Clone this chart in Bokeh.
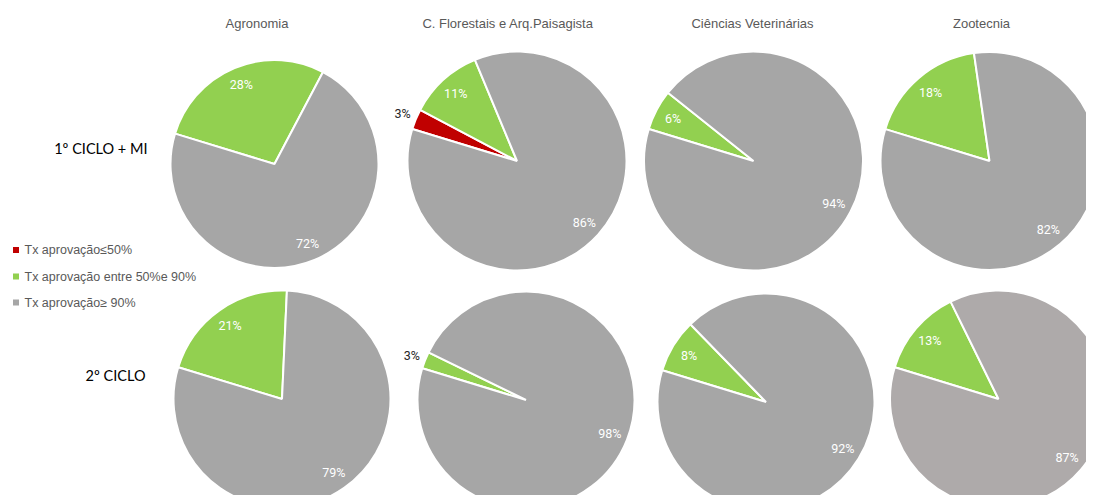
import math
from bokeh.plotting import figure
from bokeh.models import ColumnDataSource, Range1d
from bokeh.core.properties import value
from bokeh.embed import file_html
from bokeh.resources import INLINE

# ---------------- data ----------------
courses = ["Agronomia", "C. Florestais e Arq.Paisagista", "Ciências Veterinárias", "Zootecnia"]
cycles = ["1º CICLO + MI", "2º CICLO"]
categories = ["Tx aprovação≤50%", "Tx aprovação entre 50%e 90%", "Tx aprovação≥ 90%"]

low_cycle1 = [0, 3, 0, 0]
mid_cycle1 = [28, 11, 6, 18]
high_cycle1 = [72, 86, 94, 82]

low_cycle2 = [0, 0, 0, 0]
mid_cycle2 = [21, 2.5, 8, 13]
high_cycle2 = [79, 97.5, 92, 87]

# ---------------- layout / style ----------------
W, H = 1086, 495

def Y(page_y):
    return H - page_y

cat_colors = ["#C00000", "#92D050", "#A6A6A6"]
gray_override = {(1, 3): "#AEAAAA"}
pie_cx = [[274, 516.5, 753, 989], [281.5, 525.5, 765.5, 998]]
pie_cy = [[163.5, 160.5, 160.5, 160.5], [398.5, 399.5, 401.5, 398.5]]
pie_r = [[104, 109.5, 109.5, 109], [108.5, 108.5, 108.5, 108.5]]
first_slice = -73.0   # degrees clockwise from 12 o'clock
title_x = [256.5, 507.5, 752, 981]
title_y = 23
row_label_right = [147, 145]
row_label_y = [148, 375]

p = figure(width=W, height=H, output_backend="svg", toolbar_location=None,
           x_range=Range1d(0, W), y_range=Range1d(0, H),
           min_border=0, outline_line_color=None, background_fill_color="white",
           border_fill_color="white")
p.xaxis.visible = False
p.yaxis.visible = False
p.grid.visible = False

rows = [(low_cycle1, mid_cycle1, high_cycle1), (low_cycle2, mid_cycle2, high_cycle2)]

wx, wy, wr, ws, we, wc = [], [], [], [], [], []
lx, ly, lt, lc = [], [], [], []
for ri, (lo, mi, hi) in enumerate(rows):
    for ci in range(len(courses)):
        vals = [lo[ci], mi[ci], hi[ci]]
        tot = sum(vals)
        cx, cy, r = pie_cx[ri][ci], Y(pie_cy[ri][ci]), pie_r[ri][ci]
        theta = first_slice
        for k, v in enumerate(vals):
            if v <= 0:
                continue
            span = 360.0 * v / tot
            t1, t2 = theta, theta + span
            col = cat_colors[k]
            if k == 2 and (ri, ci) in gray_override:
                col = gray_override[(ri, ci)]
            wx.append(cx); wy.append(cy); wr.append(r)
            ws.append(math.radians(90 - t2)); we.append(math.radians(90 - t1))
            wc.append(col)
            midang = math.radians((t1 + t2) / 2)
            pct = math.floor(v / tot * 100 + 0.5)
            if v < 5:
                d = 1.13 * r
                lc.append("#262626")
            else:
                d = 0.83 * r
                lc.append("#FFFFFF")
            lx.append(cx + d * math.sin(midang))
            ly.append(cy + d * math.cos(midang))
            lt.append(f"{pct}%")
            theta = t2

src = ColumnDataSource(dict(x=wx, y=wy, r=wr, s=ws, e=we, c=wc))
p.wedge(x="x", y="y", radius="r", start_angle="s", end_angle="e", fill_color="c",
        line_color="white", line_width=2, source=src)

lsrc = ColumnDataSource(dict(x=lx, y=ly, t=lt, c=lc))
p.text(x="x", y="y", text="t", text_color="c", source=lsrc,
       text_align="center", text_baseline="middle",
       text_font=value("Roboto"), text_font_size=value("12.5px"))

# titles
p.text(x=title_x, y=[Y(title_y)] * len(courses), text=courses,
       text_align="center", text_baseline="middle", text_color="#595959",
       text_font=value("Liberation Sans"), text_font_size=value("13px"))

# row labels
p.text(x=row_label_right, y=[Y(v) for v in row_label_y], text=cycles,
       text_align="right", text_baseline="middle", text_color="#000000",
       text_font=value("Lato"), text_font_size=value("14.5px"))

# legend
leg_y = [249.5, 276, 302]
p.rect(x=[15.5] * 3, y=[Y(v) for v in leg_y], width=6, height=6,
       width_units="screen", height_units="screen", fill_color=cat_colors,
       line_color=None)
p.text(x=[24] * 3, y=[Y(v) for v in leg_y], text=categories,
       text_align="left", text_baseline="middle", text_color="#595959",
       text_font=value("Liberation Sans"), text_font_size=value("12.5px"))

open("out.html", "w").write(file_html(p, INLINE))
